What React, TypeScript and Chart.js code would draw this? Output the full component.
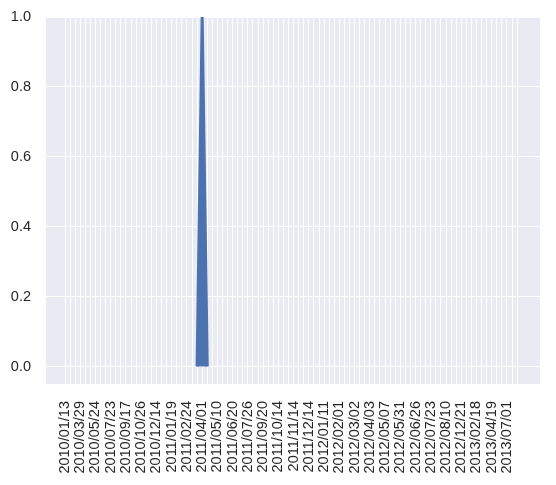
import React, { useEffect, useRef } from "react";
import { Chart, registerables } from "chart.js";

Chart.register(...registerables);

// Every third category carries a visible date label
const tickLabels = [
  "2010/01/13", "2010/03/29", "2010/05/24", "2010/07/23", "2010/09/17",
  "2010/10/26", "2010/12/14", "2011/01/19", "2011/02/24", "2011/04/01",
  "2011/05/10", "2011/06/20", "2011/07/26", "2011/09/20", "2011/10/14",
  "2011/11/14", "2011/12/14", "2012/01/11", "2012/02/01", "2012/03/02",
  "2012/04/03", "2012/05/07", "2012/05/31", "2012/06/26", "2012/07/23",
  "2012/08/10", "2012/12/21", "2013/02/18", "2013/04/19", "2013/07/01",
];
const categoryCount = 90;
const labelEvery = 3;

// Series: only three defined points (category index, value)
const seriesX = [26, 27, 28];
const seriesY = [0, 1, 0];

const yTicks = [0, 0.2, 0.4, 0.6, 0.8, 1.0];

const FONT = { family: "'Liberation Sans', Arial, sans-serif", size: 14.5 };
const TEXT = "#262626";
const BLUE = "#4c72b0";

const bgPlugin = {
  id: "areaBg",
  beforeDraw(chart: any) {
    const { ctx, chartArea } = chart;
    ctx.save();
    ctx.fillStyle = "#eaeaf2";
    ctx.fillRect(chartArea.left, chartArea.top, chartArea.right - chartArea.left, chartArea.bottom - chartArea.top);
    ctx.restore();
  },
};

export default function App() {
  const ref = useRef<HTMLCanvasElement | null>(null);
  useEffect(() => {
    document.body.style.margin = "0";
    const canvas = ref.current!;
    const chart = new Chart(canvas, {
      type: "line",
      data: {
        datasets: [
          {
            data: seriesX.map((x, i) => ({ x, y: seriesY[i] })),
            borderColor: BLUE,
            backgroundColor: BLUE,
            borderWidth: 3,
            fill: "origin",
            pointRadius: 0,
            tension: 0,
          },
        ],
      },
      options: {
        animation: false,
        responsive: false,
        devicePixelRatio: 1,
        layout: { padding: { top: 17, right: 16, left: 0, bottom: 0 } },
        plugins: { legend: { display: false }, tooltip: { enabled: false } },
        scales: {
          x: {
            type: "linear",
            min: -3.74,
            max: 93.5,
            border: { display: false },
            grid: { color: "#ffffff", lineWidth: 1, drawTicks: false },
            afterBuildTicks: (scale: any) => {
              const t: any[] = [];
              for (let i = 0; i < categoryCount; i++) t.push({ value: i });
              scale.ticks = t;
            },
            afterFit: (scale: any) => {
              scale.height = 101;
              scale.paddingLeft = 0;
              scale.paddingRight = 0;
            },
            ticks: {
              autoSkip: false,
              maxRotation: 90,
              minRotation: 90,
              padding: 17,
              color: TEXT,
              font: FONT,
              callback: (v: any) => {
                const i = Number(v);
                return i % labelEvery === 0 ? tickLabels[i / labelEvery] ?? "" : "";
              },
            },
          },
          y: {
            min: -0.05,
            max: 1.0,
            border: { display: false },
            grid: { color: "#ffffff", lineWidth: 1, drawTicks: false },
            afterBuildTicks: (scale: any) => {
              scale.ticks = yTicks.map((v) => ({ value: v }));
            },
            afterFit: (scale: any) => {
              scale.width = 46;
              scale.paddingTop = 0;
              scale.paddingBottom = 0;
            },
            ticks: {
              padding: 15,
              color: TEXT,
              font: FONT,
              callback: (v: any) => Number(v).toFixed(1),
            },
          },
        },
      },
      plugins: [bgPlugin],
    });
    return () => chart.destroy();
  }, []);
  return (
    <div style={{ position: "absolute", left: 0, top: 0, width: 556, height: 485, background: "#fff" }}>
      <canvas ref={ref} width={556} height={485} style={{ width: 556, height: 485 }} />
    </div>
  );
}
